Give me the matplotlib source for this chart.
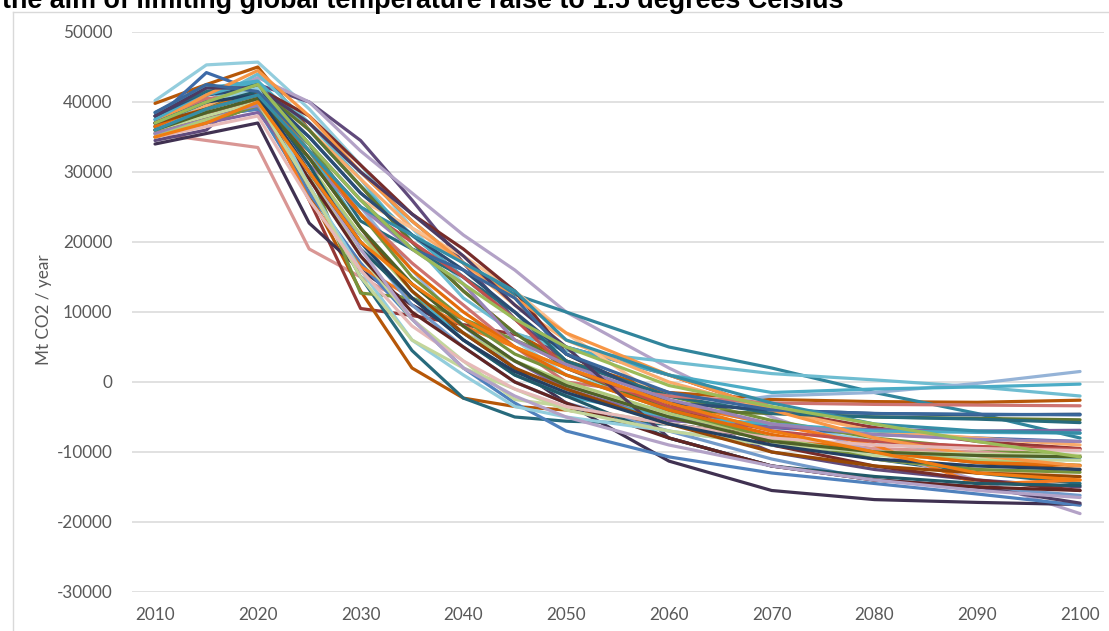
import matplotlib
matplotlib.use("Agg")
import matplotlib.pyplot as plt
from matplotlib.lines import Line2D

years = [2010, 2015, 2020, 2025, 2030, 2035, 2040, 2045, 2050, 2060, 2070, 2080, 2090, 2100]

s01 = [40200, 45300, 45700, 39000, 31000, 22000, 14000, 6000, 1000, -3000, -6000, -8500, -10500, -12000]
s02 = [39800, 42500, 45000, 36000, 28000, 20000, 13000, 7000, 3000, -1500, -2500, -2800, -2900, -2600]
s03 = [37500, 44200, 41500, 35000, 27000, 21000, 15000, 9000, 3000, -4000, -6500, -7500, -8000, -8500]
s04 = [35500, 34500, 33500, 19000, 15000, 11000, 7000, 3000, -500, -5000, -8000, -9500, -10000, -10500]
s05 = [36500, 37500, 40500, 26000, 10500, 9500, 8200, 6800, 5000, 1000, -4000, -6500, -8500, -9500]
s06 = [35000, 37000, 39500, 27000, 13000, 2000, -2300, -3500, -4000, -6000, -8000, -10000, -11500, -12500]
s07 = [36000, 38000, 39000, 28000, 15000, 4500, -2300, -5000, -5600, -6000, -8000, -11000, -13000, -14500]
s08 = [34500, 36000, 42500, 40000, 34500, 26000, 17000, 9000, 3000, -4000, -10000, -12500, -14000, -15000]
s09 = [36500, 40000, 43500, 40000, 33000, 27000, 21000, 16000, 10000, 2000, -5000, -10000, -14000, -18800]
s10 = [37000, 41000, 42500, 37000, 30000, 23000, 17000, 12500, 10000, 5000, 2000, -1500, -4500, -8000]
s11 = [36000, 40000, 44000, 37000, 29000, 20000, 12000, 7000, 4500, 2900, 1200, 300, -700, -2000]
s12 = [35000, 38000, 40000, 33000, 25000, 16000, 8000, 2000, -2000, -4000, -2000, -1500, -200, 1500]
s13 = [38500, 42000, 43000, 36000, 28000, 21000, 15000, 9000, 5000, 1000, -1500, -1000, -700, -300]
s14 = [34000, 35500, 37000, 22700, 16000, 11000, 7000, 2000, -3000, -11300, -15500, -16800, -17200, -17500]
s15 = [35500, 38000, 39000, 27000, 17000, 9000, 2000, -3000, -7000, -10700, -13000, -14500, -16000, -17600]
s16 = [36000, 38000, 40600, 26000, 16500, 12000, 8000, 5000, 2000, -3000, -6000, -9000, -14600, -14000]
s17 = [35000, 37000, 39500, 30000, 12700, 12000, 9000, 6000, 3000, -2000, -5500, -8000, -9500, -10700]
s18 = [36000, 39500, 42000, 36000, 29000, 22000, 17000, 11000, 6000, 0, -4000, -7000, -8000, -9000]
s19 = [37000, 40000, 41000, 34000, 26000, 22000, 18000, 13000, 7000, -3000, -8000, -11000, -12500, -13600]
s20 = [35500, 38000, 40000, 30000, 18000, 9000, 3000, -2500, -3500, -6000, -9000, -10500, -11000, -11200]
s21 = [37000, 40000, 42000, 38000, 31000, 24000, 19000, 13000, 4000, -3000, -9000, -12000, -14000, -15500]
s22 = [36500, 39000, 42000, 36000, 28000, 20000, 13000, 7000, 2000, -4000, -4500, -5000, -5200, -5400]
s23 = [38000, 41500, 42500, 34000, 23000, 19000, 15000, 10000, 3000, -2000, -4500, -5000, -5300, -5800]
s24 = [35000, 37000, 38500, 30000, 21000, 14000, 8000, 3000, -1000, -5500, -6500, -6800, -7000, -6900]
s25 = [36000, 38500, 40000, 33000, 25000, 20000, 15000, 9000, 2000, -3500, -7000, -8500, -9200, -9600]
s26 = [37000, 40500, 41000, 32000, 24000, 17000, 11000, 5000, 0, -2000, -3000, -3200, -3300, -3400]
s27 = [38000, 41000, 42000, 35000, 27000, 21000, 16000, 10000, 4000, -3000, -4000, -4500, -4700, -4600]
s28 = [36000, 39000, 41000, 31000, 20000, 11000, 5000, 0, -3000, -7000, -11000, -14000, -15000, -16200]
s29 = [37500, 41000, 43000, 33000, 22000, 13000, 6000, 1000, -2000, -5000, -6000, -7000, -7200, -7300]
s30 = [35000, 37500, 40000, 31000, 21000, 13000, 7000, 3000, 0, -4500, -8000, -10000, -11200, -11900]
s31 = [36000, 39000, 41500, 34000, 24000, 15000, 9000, 4000, 1000, -4000, -8000, -11000, -12500, -12900]
s32 = [35500, 38000, 39500, 31000, 25000, 19000, 14000, 6000, 2500, -2500, -6000, -7500, -8200, -8500]
s33 = [36500, 39000, 41500, 33000, 24000, 16000, 10000, 5000, 1000, -4000, -7500, -10000, -11500, -11900]
s34 = [37000, 41000, 44500, 38000, 30000, 23000, 17000, 12000, 7000, 1000, -4000, -8000, -10500, -12000]
s35 = [38000, 42000, 42000, 37000, 30000, 24000, 18000, 11000, 5000, -8000, -12000, -14000, -15000, -17300]
s36 = [37000, 40000, 41500, 31000, 19000, 12000, 6000, 1000, -2000, -8000, -12000, -13500, -14500, -14800]
s37 = [36000, 38000, 40000, 29000, 18000, 10000, 5000, 0, -3000, -8000, -12000, -14000, -15000, -15500]
s38 = [37000, 40000, 42000, 28000, 16000, 6000, 1000, -3500, -5000, -7000, -9000, -10000, -10500, -10800]
s39 = [36000, 38000, 40000, 28000, 15000, 6000, 2000, -1000, -4000, -7000, -9000, -10000, -10300, -10500]
s40 = [35000, 36500, 38000, 26000, 16000, 8000, 3000, -1000, -3500, -6000, -8000, -9000, -9500, -9800]
s41 = [36000, 39000, 41000, 30000, 19000, 9000, 2000, -2000, -5000, -9000, -12000, -14000, -15500, -16500]
s42 = [37000, 39000, 41000, 32000, 22000, 13000, 7000, 2000, -1000, -6000, -10000, -12000, -13000, -13500]
s43 = [36000, 38500, 40500, 32000, 22000, 14000, 8000, 3000, -500, -5000, -8500, -10000, -10500, -10700]
s44 = [37000, 40000, 41000, 30000, 20000, 12000, 6000, 1500, -1500, -6000, -9000, -11000, -12000, -12500]
s45 = [38500, 42500, 41500, 34000, 26000, 19000, 16000, 12000, 4000, -1500, -4000, -4500, -4600, -4700]
s46 = [35000, 37000, 40000, 30000, 20000, 14000, 9000, 5000, 2000, -3000, -7000, -10000, -13000, -14000]
s47 = [36000, 39000, 41000, 33000, 25000, 21000, 17000, 13000, 6000, 1000, -3000, -6000, -7000, -7300]
s48 = [37000, 40000, 42500, 34000, 26000, 19000, 14000, 9000, 5000, -500, -3500, -6000, -8500, -10700]

series = [s01, s02, s03, s04, s05, s06, s07, s08, s09, s10, s11, s12,
          s13, s14, s15, s16, s17, s18, s19, s20, s21, s22, s23, s24,
          s25, s26, s27, s28, s29, s30, s31, s32, s33, s34, s35, s36,
          s37, s38, s39, s40, s41, s42, s43, s44, s45, s46, s47, s48]

colors = ['#93CDDD', '#B65708', '#3D6AA8', '#D99694', '#953735', '#B65708',
          '#276A7C', '#604A7B', '#B3A2C7', '#31859C', '#6FBDD1', '#95B3D7',
          '#4BACC6', '#403151', '#4F81BD', '#F47A20', '#77933C', '#F9AB6B',
          '#FAC090', '#C3D69B', '#772C2A', '#5F7530', '#276A7C', '#8064A2',
          '#C0504D', '#CD7371', '#2C4D75', '#729ACA', '#4BACC6', '#AFC97A',
          '#77933C', '#9983B5', '#E46C0A', '#F79646', '#4D3B62', '#215968',
          '#632523', '#93CDDD', '#C3D69B', '#E6B9B8', '#B3A2C7', '#974806',
          '#4F6228', '#244062', '#3A679C', '#F07C12', '#358EA6', '#9BBB59']

title_text = "the aim of limiting global temperature raise to 1.5 degrees Celsius"
ylabel_text = "Mt CO2 / year"
xticks = [2010, 2020, 2030, 2040, 2050, 2060, 2070, 2080, 2090, 2100]
yticks = [-30000, -20000, -10000, 0, 10000, 20000, 30000, 40000, 50000]

W, H = 1109, 631
fig = plt.figure(figsize=(W / 100, H / 100), dpi=100)
fig.patch.set_facecolor('white')

ax = fig.add_axes([132 / W, (H - 592) / H, (1104 - 132) / W, (592 - 32) / H])
ax.set_facecolor('white')
for i, s in enumerate(series):
    ax.plot(years, s, color=colors[i % len(colors)], lw=2.3,
            solid_joinstyle='round', solid_capstyle='round', zorder=3)

ax.set_xlim(2007.76, 2102.33)
ax.set_ylim(-30000, 50000)
ax.set_xticks(xticks)
ax.set_yticks(yticks)
ax.set_xticklabels([str(x) for x in xticks])
ax.set_yticklabels([str(y) for y in yticks])
ax.tick_params(axis='both', length=0, labelsize=12.3, labelcolor='#595959')
ax.tick_params(axis='y', pad=14)
ax.tick_params(axis='x', pad=11)
for lab in ax.get_xticklabels() + ax.get_yticklabels():
    lab.set_fontfamily(['Lato', 'DejaVu Sans'])
ax.grid(axis='y', color='#D9D9D9', lw=1.1, zorder=0)
ax.grid(axis='x', visible=False)
for sp in ax.spines.values():
    sp.set_visible(False)

fig.text(44 / W, 1 - 310 / H, ylabel_text, rotation=90, ha='center', va='center',
         fontsize=12.3, color='#595959', family=['Lato', 'DejaVu Sans'])

# chart area border (left and top edges visible)
fig.add_artist(Line2D([13 / W, 13 / W], [0, 1 - 12 / H], transform=fig.transFigure,
                      color='#D9D9D9', lw=1.0))
fig.add_artist(Line2D([13 / W, 1], [1 - 12 / H, 1 - 12 / H], transform=fig.transFigure,
                      color='#D9D9D9', lw=1.0))

t = fig.text(2 / W, 1 - 8 / H, title_text, ha='left', va='baseline', fontsize=16,
             fontweight='bold', color='black', family=['Liberation Sans', 'DejaVu Sans'])
fig.canvas.draw()
bb = t.get_window_extent()
t.set_fontsize(16 * 840 / bb.width)

fig.savefig('out.png', dpi=100, facecolor='white')
